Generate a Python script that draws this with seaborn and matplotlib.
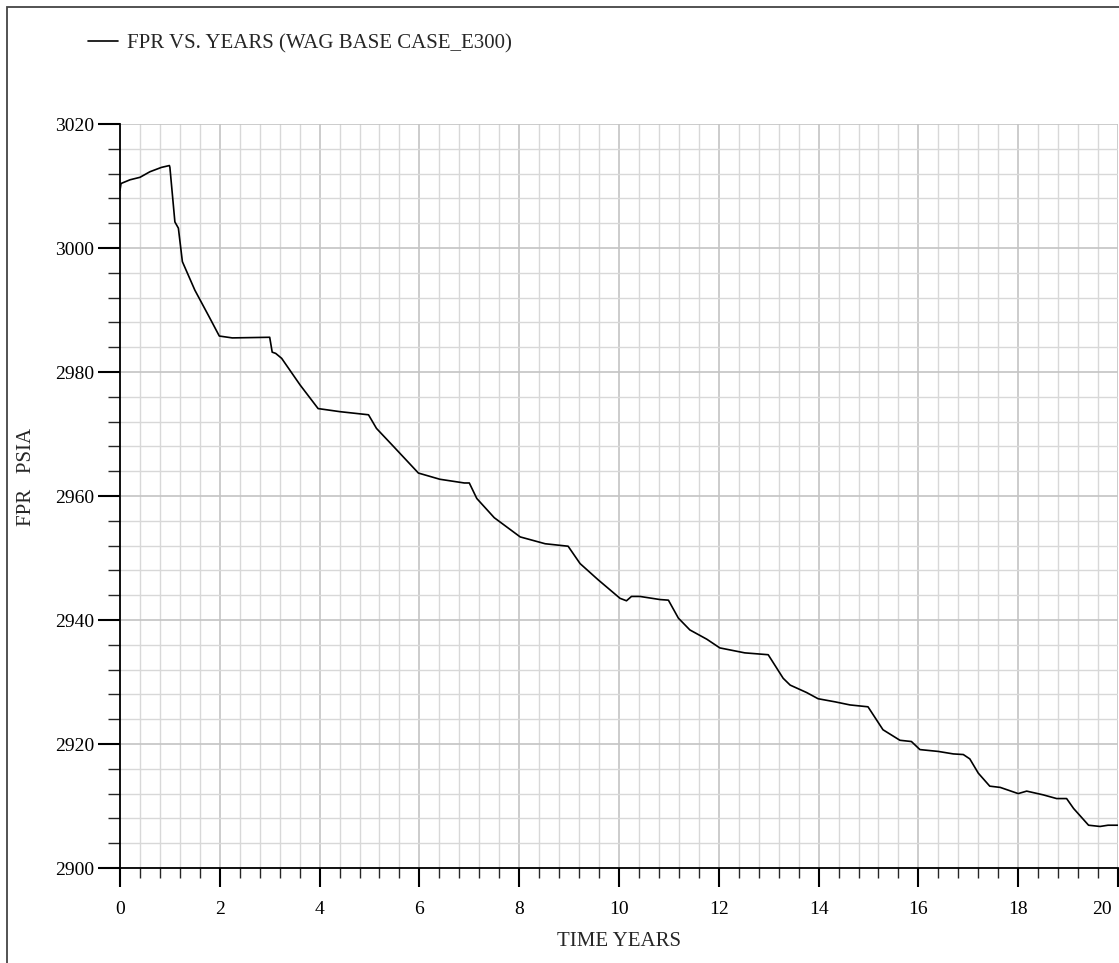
import matplotlib
matplotlib.use("Agg")
import matplotlib.pyplot as plt
from matplotlib.patches import Rectangle
from matplotlib.ticker import MultipleLocator
import matplotlib.transforms as mtransforms
import seaborn as sns
import pandas as pd

years = [0, 0.02, 0.2, 0.4, 0.6, 0.83, 0.99, 1.0, 1.1, 1.17, 1.25, 1.5, 1.8, 1.99,
         2.25, 3.0, 3.05, 3.12, 3.24, 3.61, 3.97, 4.41, 4.98, 5.14, 5.48, 5.98, 6.41,
         6.9, 7.0, 7.15, 7.5, 8.02, 8.52, 8.98, 9.22, 9.58, 10.02, 10.15, 10.25, 10.42,
         10.82, 10.99, 11.19, 11.42, 11.76, 12.02, 12.52, 12.99, 13.29, 13.43, 13.76,
         13.99, 14.33, 14.63, 14.99, 15.29, 15.63, 15.86, 16.03, 16.40, 16.70, 16.90,
         17.03, 17.2, 17.43, 17.64, 18.0, 18.17, 18.5, 18.77, 18.97, 19.11, 19.41,
         19.64, 19.8, 20.0]
fpr = [3009.3, 3010.4, 3011.0, 3011.4, 3012.3, 3013.0, 3013.3, 3013.0, 3004.2, 3003.2,
       2997.8, 2993.2, 2988.7, 2985.8, 2985.5, 2985.6, 2983.2, 2983.0, 2982.2, 2977.9,
       2974.1, 2973.6, 2973.1, 2970.9, 2968.0, 2963.7, 2962.7, 2962.1, 2962.1, 2959.6,
       2956.5, 2953.4, 2952.3, 2951.9, 2949.1, 2946.5, 2943.5, 2943.1, 2943.8, 2943.8,
       2943.3, 2943.2, 2940.3, 2938.4, 2936.9, 2935.5, 2934.7, 2934.4, 2930.6, 2929.5,
       2928.3, 2927.3, 2926.8, 2926.3, 2926.0, 2922.3, 2920.6, 2920.4, 2919.1, 2918.8,
       2918.4, 2918.3, 2917.6, 2915.3, 2913.2, 2913.0, 2912.0, 2912.4, 2911.8, 2911.2,
       2911.2, 2909.6, 2906.9, 2906.7, 2906.9, 2906.9]
series_label = "FPR VS. YEARS (WAG BASE CASE_E300)"
x_title = "TIME YEARS"
y_title = "FPR   PSIA"

df = pd.DataFrame({"t": years, "v": fpr})

sns.set_style("white")
plt.rcParams["font.family"] = ["Liberation Serif", "DejaVu Serif"]

W, H = 1119, 963
fig = plt.figure(figsize=(W / 100, H / 100), dpi=100)
ax = fig.add_axes([120 / W, (H - 868) / H, (1118 - 120) / W, (868 - 124) / H])

sns.lineplot(data=df, x="t", y="v", color="black", linewidth=1.2, ax=ax,
             estimator=None, sort=False, label=series_label, legend=False)

ax.set_xlim(0, 20)
ax.set_ylim(2900, 3020)
ax.xaxis.set_major_locator(MultipleLocator(2))
ax.xaxis.set_minor_locator(MultipleLocator(0.4))
ax.yaxis.set_major_locator(MultipleLocator(20))
ax.yaxis.set_minor_locator(MultipleLocator(4))

ax.grid(which="major", color="#c4c4c4", linewidth=1.2)
ax.grid(which="minor", color="#d8d8d8", linewidth=1.0)
ax.set_axisbelow(True)

for s in ["top", "right"]:
    ax.spines[s].set_visible(False)
for s in ["left", "bottom"]:
    ax.spines[s].set_color("black")
    ax.spines[s].set_linewidth(1.3)

ax.tick_params(axis="x", which="major", direction="out", length=13.7, width=1.5,
               pad=10, labelsize=14, colors="black", bottom=True)
ax.tick_params(axis="x", which="minor", direction="out", length=7.2, width=1.0,
               bottom=True)
ax.tick_params(axis="y", which="major", direction="out", length=15.8, width=1.5,
               pad=3, labelsize=14, colors="black", left=True)
ax.tick_params(axis="y", which="minor", direction="out", length=8.6, width=1.0,
               left=True)

ax.set_xlabel(x_title, fontsize=15, labelpad=10)
ax.set_ylabel(y_title, fontsize=15)
ax.yaxis.set_label_coords(-0.084, 0.526)

fig.canvas.draw()
for lbl in ax.get_xticklabels():
    if lbl.get_text() == "20":
        lbl.set_horizontalalignment("right")
        lbl.set_transform(lbl.get_transform() +
                          mtransforms.ScaledTranslation(-6 / 100, 0, fig.dpi_scale_trans))

handles, labels = ax.get_legend_handles_labels()
fig.legend(handles, labels, loc="center left", bbox_to_anchor=(88 / W, 1 - 44 / H),
           frameon=False, fontsize=15, handlelength=1.45, handletextpad=0.4,
           borderpad=0, borderaxespad=0)

fig.patches.append(Rectangle((7 / W, -0.05), 1.2, 1 - 7 / H + 0.05,
                             transform=fig.transFigure, fill=False,
                             edgecolor="#444444", linewidth=1.3))

fig.savefig("out.png", dpi=100)
